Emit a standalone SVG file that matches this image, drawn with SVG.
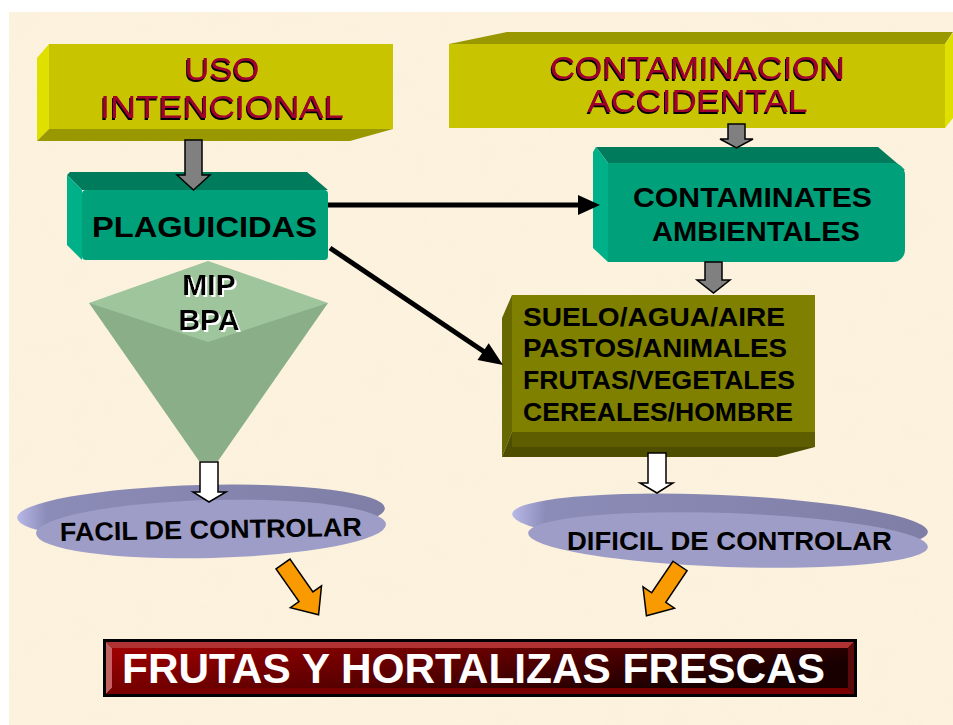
<svg xmlns="http://www.w3.org/2000/svg" width="953" height="725" viewBox="0 0 953 725">
<defs>
<style>
.t{font-family:"Liberation Sans",Arial,sans-serif}
.b{font-weight:bold}
.red{fill:#A0002E;filter:url(#shb)}
.wsh{filter:url(#shw)}
.gray{fill:#808080;stroke:#000;stroke-width:1.5}
.white{fill:#fff;stroke:#000;stroke-width:1.5}
.orange{fill:#F89A00;stroke:#000;stroke-width:1.5}
.con{stroke:#000;stroke-width:5;fill:none}
</style>
<filter id="shb" x="-10%" y="-20%" width="120%" height="140%">
<feOffset in="SourceAlpha" dx="-1.5" dy="1.5" result="o"/>
<feMerge><feMergeNode in="o"/><feMergeNode in="SourceGraphic"/></feMerge>
</filter>
<filter id="shw" x="-10%" y="-20%" width="120%" height="140%">
<feOffset in="SourceAlpha" dx="2" dy="1.5" result="o"/>
<feFlood flood-color="#fff"/>
<feComposite in2="o" operator="in" result="w"/>
<feMerge><feMergeNode in="w"/><feMergeNode in="SourceGraphic"/></feMerge>
</filter>
<filter id="tex" x="0" y="0" width="100%" height="100%">
<feTurbulence type="fractalNoise" baseFrequency="0.03" numOctaves="3" seed="4"/>
<feColorMatrix type="matrix" values="0 0 0 0 0.94  0 0 0 0 0.87  0 0 0 0 0.72  0 0 0 -1.6 1.1"/>
</filter>
<linearGradient id="band" x1="0" y1="0" x2="1" y2="0">
<stop offset="0" stop-color="#B8B8E8"/>
<stop offset="0.08" stop-color="#8C8CB8"/>
<stop offset="1" stop-color="#7E7EA6"/>
</linearGradient>
<linearGradient id="ban" x1="0" y1="0" x2="1" y2="0.35">
<stop offset="0" stop-color="#A00000"/>
<stop offset="0.55" stop-color="#5A0000"/>
<stop offset="1" stop-color="#180000"/>
</linearGradient>
</defs>
<rect width="953" height="725" fill="#fff"/>
<rect x="9" y="12" width="944" height="713" fill="#FCF2DE"/>
<rect x="9" y="12" width="944" height="713" filter="url(#tex)" opacity="0.3"/>

<g id="uso">
<polygon points="37,58 49,44 49,129 37,141" fill="#E0E000"/>
<polygon points="37,141 350,141 393,129 49,129" fill="#9A9800"/>
<rect x="49" y="44" width="344" height="85" fill="#C8C400"/>
<g class="t" font-size="32" text-anchor="middle">
<text class="red" x="222" y="80" textLength="75" lengthAdjust="spacingAndGlyphs">USO</text>
<text class="red" x="222" y="118" textLength="244" lengthAdjust="spacingAndGlyphs">INTENCIONAL</text>
</g>
</g>

<g id="contaminacion">
<polygon points="449,44 507,32 953,32 945,44" fill="#9A9800"/>
<polygon points="945,44 953,33 953,118 945,128" fill="#E0E000"/>
<rect x="449" y="44" width="496" height="84" fill="#C8C400"/>
<g class="t" font-size="31" text-anchor="middle">
<text class="red" x="697.5" y="79" textLength="295" lengthAdjust="spacingAndGlyphs">CONTAMINACION</text>
<text class="red" x="697.5" y="112" textLength="220" lengthAdjust="spacingAndGlyphs">ACCIDENTAL</text>
</g>
</g>

<g id="plaguicidas">
<polygon points="67,175 70,172 307,172 328,190 82,190" fill="#007C5C"/>
<polygon points="67,175 82,190 82,260 67,245" fill="#00B088"/>
<rect x="82" y="190" width="246" height="70" rx="4" fill="#00A07A"/>
<text class="t b" x="92" y="237" font-size="30" textLength="225" lengthAdjust="spacingAndGlyphs">PLAGUICIDAS</text>
</g>

<g id="contaminates">
<polygon points="596,147 878,147 905,170 608,163" fill="#007C5C"/>
<polygon points="593,152 596,147 608,163 608,262 593,248" fill="#00B088"/>
<rect x="608" y="163" width="297" height="99" rx="12" fill="#00A07A"/>
<rect x="608" y="163" width="20" height="99" fill="#00A07A"/>
<g class="t b" font-size="27">
<text x="633" y="207" textLength="239" lengthAdjust="spacingAndGlyphs">CONTAMINATES</text>
<text x="652" y="241" textLength="208" lengthAdjust="spacingAndGlyphs">AMBIENTALES</text>
</g>
</g>

<g id="suelo">
<polygon points="502,318 512,295 512,432 502,457" fill="#686800"/>
<polygon points="502,457 512,432 815,432 815,447 777,457" fill="#4E4E00"/>
<polygon points="512,432 815,432 815,447 512,447" fill="#5E5E00"/>
<rect x="512" y="295" width="303" height="137" fill="#7F7F00"/>
<g class="t b" font-size="25">
<text x="523" y="326" textLength="262" lengthAdjust="spacingAndGlyphs">SUELO/AGUA/AIRE</text>
<text x="523" y="357" textLength="264" lengthAdjust="spacingAndGlyphs">PASTOS/ANIMALES</text>
<text x="523" y="389" textLength="272" lengthAdjust="spacingAndGlyphs">FRUTAS/VEGETALES</text>
<text x="523" y="421" textLength="270" lengthAdjust="spacingAndGlyphs">CEREALES/HOMBRE</text>
</g>
</g>

<g id="funnel">
<polygon points="89,303 328,303 218,461 199,461" fill="#8AAF88"/>
<polygon points="89,303 208,261 328,303 208,342" fill="#9EC59B"/>
<g class="t b wsh" font-size="30" text-anchor="middle">
<text x="209" y="295">MIP</text>
<text x="209" y="330">BPA</text>
</g>
</g>

<g id="facil">
<ellipse cx="201" cy="513" rx="184" ry="28" transform="rotate(-1.5 201 513)" fill="url(#band)"/>
<ellipse cx="211" cy="529" rx="175" ry="29" transform="rotate(-1.5 211 529)" fill="#9D9DC7"/>
<text class="t b" x="60" y="541" font-size="26" textLength="302" lengthAdjust="spacingAndGlyphs" transform="rotate(-1 60 541)">FACIL DE CONTROLAR</text>
</g>

<g id="dificil">
<ellipse cx="720" cy="523" rx="208" ry="28" transform="rotate(2.5 720 523)" fill="url(#band)"/>
<ellipse cx="728" cy="540" rx="200" ry="27" transform="rotate(2 728 540)" fill="#9D9DC7"/>
<text class="t b" x="567" y="550" font-size="26" textLength="325" lengthAdjust="spacingAndGlyphs">DIFICIL DE CONTROLAR</text>
</g>

<g id="frutas">
<rect x="103" y="639" width="754" height="58" fill="#000"/>
<polygon points="106,642 854,642 848,648 112,648" fill="#B03232"/>
<polygon points="106,642 112,648 112,688 106,694" fill="#C46060"/>
<polygon points="106,694 854,694 848,688 112,688" fill="#7A0000"/>
<polygon points="854,642 854,694 848,688 848,648" fill="#5A0A0A"/>
<rect x="112" y="648" width="736" height="40" fill="url(#ban)"/>
<text class="t b" x="122" y="683" font-size="42" fill="#fff" textLength="703" lengthAdjust="spacingAndGlyphs">FRUTAS Y HORTALIZAS FRESCAS</text>
</g>

<g id="connectors">
<polygon class="gray" points="185,140 202,140 202,175 210,175 193.5,190 177,175 185,175"/>
<polygon class="gray" points="728,124 745,124 745,139 753,139 736.5,148 720,139 728,139"/>
<polygon class="gray" points="705,262 722,262 722,280 730,280 713.5,293 697,280 705,280"/>
<polygon class="white" points="200,462 218,462 218,492 226,492 209,502 193,492 200,492"/>
<polygon class="white" points="648,453 666,453 666,483 673,483 657,493 640,483 648,483"/>
<line class="con" x1="328" y1="205" x2="582" y2="205"/>
<polygon points="600,205 578,195 578,215" fill="#000"/>
<line class="con" x1="330" y1="248" x2="486" y2="353"/>
<polygon points="503,365 477.5,359.9 488.7,343.3" fill="#000"/>
<polygon class="orange" transform="translate(283,564) rotate(-35)" points="-8.5,0 8.5,0 8.5,40 19,40 0,62 -19,40 -8.5,40"/>
<polygon class="orange" transform="translate(680,566) rotate(34)" points="-8.5,0 8.5,0 8.5,38 19,38 0,60 -19,38 -8.5,38"/>
</g>
</svg>
